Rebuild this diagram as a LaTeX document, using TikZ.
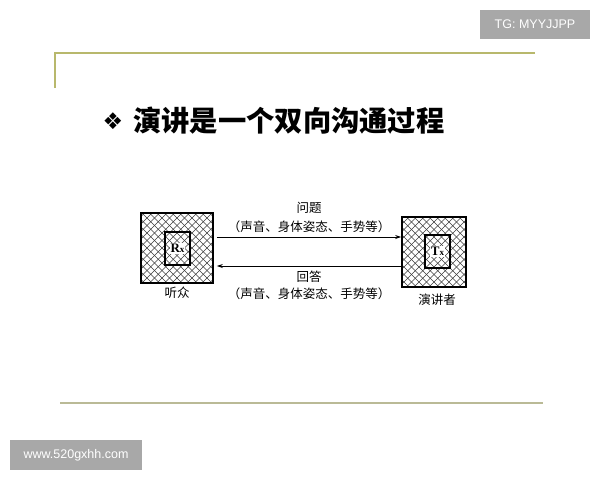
\documentclass[tikz,border=0pt]{standalone}
\usepackage{fontspec}
\newfontfamily\cjk{Noto Sans CJK SC}
\newfontfamily\dejavu{DejaVu Sans}
\newfontfamily\lib{Liberation Sans}
\newfontfamily\libserif{Liberation Serif}
\usetikzlibrary{arrows.meta}
\definecolor{rulecol}{RGB}{184,184,108}
\definecolor{rulecolb}{RGB}{186,186,150}
\definecolor{wmgray}{RGB}{168,168,168}
\definecolor{hatchcol}{RGB}{60,60,60}
\tikzset{
  hatchbox/.style={draw, line width=1.6pt, inner sep=0pt,
    path picture={
      \foreach \i in {-12,...,12}{
        \draw[hatchcol, line width=0.45pt] ([xshift=\i*7.5pt]path picture bounding box.center) ++(-60pt,-60pt) -- ++(120pt,120pt);
        \draw[hatchcol, line width=0.45pt] ([xshift=\i*7.5pt]path picture bounding box.center) ++(-60pt,60pt) -- ++(120pt,-120pt);
      }
    }},
  innerbox/.style={draw, line width=1.1pt, inner sep=0pt},
  sublabel/.style={fill=white, inner sep=0.8pt, font=\libserif\bfseries\fontsize{13}{13}\selectfont},
  lbl/.style={font=\cjk\fontsize{12.5}{12.5}\selectfont, inner sep=0pt},
  arrowline/.style={line width=0.7pt, -{Stealth[length=6pt,width=4pt]}},
  wm/.style={fill=wmgray, text=white, inner sep=0pt, font=\lib\fontsize{12.5}{12.5}\selectfont}
}
\begin{document}
\begin{tikzpicture}[x=1pt,y=-1pt]
\useasboundingbox (0,0) rectangle (600,480);
% watermark boxes
\node[wm, minimum width=110pt, minimum height=29pt] (wm1) at (535,24.5) {TG: MYYJJPP};
\node[wm, minimum width=132pt, minimum height=30pt] (wm2) at (76,455) {www.520gxhh.com};
% rules
\draw[rulecol, line width=1.2pt] (55,88) -- (55,53) -- (535,53);
\draw[rulecolb, line width=2pt] (60,403) -- (543,403);
% title
\node[font=\dejavu\fontsize{23}{23}\selectfont, inner sep=0pt] (bullet) at (113,121) {❖};
\node[anchor=west, font=\cjk\bfseries\fontsize{28.3}{29}\selectfont, inner sep=0pt] (title) at (133,121) {演讲是一个双向沟通过程};
% boxes
\node[hatchbox, minimum width=72pt, minimum height=70pt] (rx) at (177,248) {};
\node[innerbox, minimum width=25pt, minimum height=33pt] (rxin) at (177.5,248.5) {};
\node[sublabel] (rxl) at (rxin) {R{\fontsize{9}{9}\selectfont x}};
\node[hatchbox, minimum width=64pt, minimum height=70pt] (tx) at (434,252) {};
\node[innerbox, minimum width=25pt, minimum height=33pt] (txin) at (437.5,251.5) {};
\node[sublabel] (txl) at (txin) {T{\fontsize{9}{9}\selectfont x}};
% captions
\node[lbl] (cap1) at (177,293) {听众};
\node[lbl] (cap2) at (437,300) {演讲者};
% arrows
\draw[arrowline] ([xshift=3pt,yshift=11pt]rx.east) -- ([yshift=11pt]rx.east -| tx.west);
\draw[arrowline] ([yshift=-18pt]rx.east -| tx.west) -- ([xshift=3pt,yshift=-18pt]rx.east);
% labels
\node[lbl] (q1) at (309,208) {问题};
\node[lbl] (q2) at (309,227) {（声音、身体姿态、手势等）};
\node[lbl] (a1) at (309,277) {回答};
\node[lbl] (a2) at (309,294) {（声音、身体姿态、手势等）};
\end{tikzpicture}
\end{document}
